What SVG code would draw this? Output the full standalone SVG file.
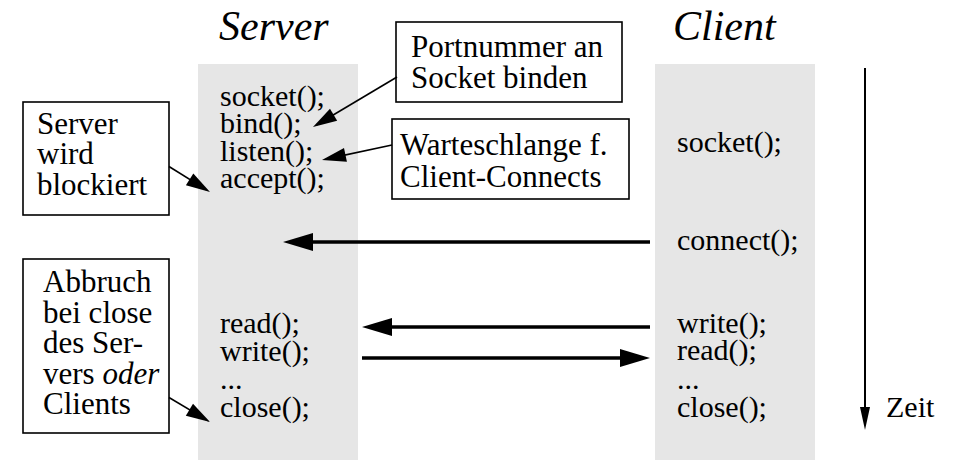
<svg xmlns="http://www.w3.org/2000/svg" width="960" height="460" viewBox="0 0 960 460">
  <style>
    text { font-family: 'Liberation Serif', 'DejaVu Serif', serif; fill: #000; }
    .title { font-size: 42px; font-style: italic; }
    .code { font-size: 30px; }
    .note { font-size: 31px; }
    .panel { fill: #e6e6e6; stroke: none; }
    .box { fill: #fff; stroke: #000; stroke-width: 1.6; }
    .msg { stroke: #000; stroke-width: 3.5; fill: none; }
    .thin { stroke: #000; stroke-width: 1.6; fill: none; }
    .time { stroke: #000; stroke-width: 2; fill: none; }
  </style>
  <defs>
    <marker id="head-big" markerUnits="userSpaceOnUse" markerWidth="30" markerHeight="18" refX="13" refY="9" orient="auto" overflow="visible">
      <path d="M0,0 L30,9 L0,18 z" fill="#000"/>
    </marker>
    <marker id="head-thin" markerUnits="userSpaceOnUse" markerWidth="24" markerHeight="14" refX="20" refY="7" orient="auto" overflow="visible">
      <path d="M0,0 L24,7 L0,14 z" fill="#000"/>
    </marker>
    <marker id="head-time" markerUnits="userSpaceOnUse" markerWidth="23" markerHeight="10" refX="3" refY="5" orient="auto" overflow="visible">
      <path d="M0,0 L23,5 L0,10 z" fill="#000"/>
    </marker>
  </defs>

  <!-- Server column -->
  <g id="server">
    <rect class="panel" x="198" y="64" width="160" height="396"/>
    <text class="title" x="219" y="40">Server</text>
    <text class="code" x="220" y="105.5">socket();</text>
    <text class="code" x="220" y="133">bind();</text>
    <text class="code" x="220" y="160.5">listen();</text>
    <text class="code" x="220" y="188">accept();</text>
    <text class="code" x="220" y="333">read();</text>
    <text class="code" x="220" y="361">write();</text>
    <text class="code" x="220" y="389">...</text>
    <text class="code" x="220" y="417">close();</text>
  </g>

  <!-- Client column -->
  <g id="client">
    <rect class="panel" x="655" y="64" width="160" height="396"/>
    <text class="title" x="673" y="40">Client</text>
    <text class="code" x="677" y="152">socket();</text>
    <text class="code" x="677" y="250">connect();</text>
    <text class="code" x="677" y="333">write();</text>
    <text class="code" x="677" y="360">read();</text>
    <text class="code" x="677" y="389">...</text>
    <text class="code" x="677" y="417">close();</text>
  </g>

  <!-- Annotation boxes -->
  <g id="note-bind">
    <rect class="box" x="396" y="22" width="226" height="80"/>
    <text class="note" x="411" y="57">Portnummer an</text>
    <text class="note" x="411" y="88">Socket binden</text>
  </g>
  <g id="note-listen">
    <rect class="box" x="392" y="119" width="237" height="80"/>
    <text class="note" x="400" y="155">Warteschlange f.</text>
    <text class="note" x="400" y="187">Client-Connects</text>
  </g>
  <g id="note-accept">
    <rect class="box" x="23" y="102" width="146" height="113"/>
    <text class="note" x="37" y="134">Server</text>
    <text class="note" x="37" y="164">wird</text>
    <text class="note" x="37" y="195">blockiert</text>
  </g>
  <g id="note-close">
    <rect class="box" x="23" y="259" width="146" height="174"/>
    <text class="note" x="43" y="292">Abbruch</text>
    <text class="note" x="43" y="322.5">bei close</text>
    <text class="note" x="43" y="353">des Ser-</text>
    <text class="note" x="43" y="383.5">vers <tspan font-style="italic">oder</tspan></text>
    <text class="note" x="43" y="414">Clients</text>
  </g>
  <g id="time-label">
    <text class="code" x="886" y="417">Zeit</text>
  </g>

  <!-- Connectors -->
  <g id="connectors">
    <line class="msg" x1="650" y1="242" x2="300" y2="242" marker-end="url(#head-big)"/>
    <line class="msg" x1="650" y1="327" x2="379" y2="327" marker-end="url(#head-big)"/>
    <line class="msg" x1="362" y1="358" x2="633" y2="358" marker-end="url(#head-big)"/>
    <line class="thin" x1="397" y1="77" x2="316.4" y2="125" marker-end="url(#head-thin)"/>
    <line class="thin" x1="392" y1="145" x2="325.9" y2="159.1" marker-end="url(#head-thin)"/>
    <line class="thin" x1="169" y1="166.5" x2="206.6" y2="189.9" marker-end="url(#head-thin)"/>
    <line class="thin" x1="169" y1="397.5" x2="206.6" y2="419.9" marker-end="url(#head-thin)"/>
    <line class="time" x1="865" y1="68" x2="865" y2="410" marker-end="url(#head-time)"/>
  </g>
</svg>
